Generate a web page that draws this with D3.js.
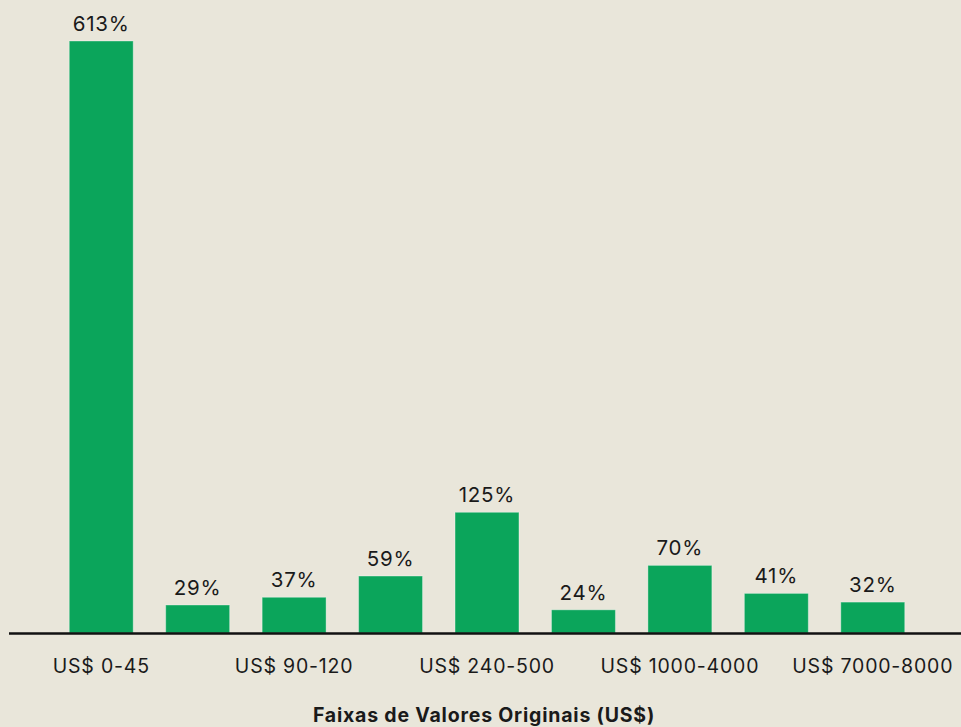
<!DOCTYPE html>
<html><head><meta charset="utf-8">
<script src="https://cdn.jsdelivr.net/npm/d3@7"></script>
<style>
html,body{margin:0;padding:0;background:#e9e6da;}
svg{display:block;font-family:Inter, "Noto Sans", sans-serif;}
</style></head>
<body>
<svg id="chart" width="961" height="727"></svg>
<script>
const categories = ["US$ 0-45","US$ 45-90","US$ 90-120","US$ 120-240","US$ 240-500","US$ 500-1000","US$ 1000-4000","US$ 4000-7000","US$ 7000-8000"];
const values = [613, 29, 37, 59, 125, 24, 70, 41, 32];
const shownTicks = ["US$ 0-45","US$ 90-120","US$ 240-500","US$ 1000-4000","US$ 7000-8000"];
const axisTitle = "Faixas de Valores Originais (US$)";

const W = 961, H = 727;
const margin = {left: 53, right: 40, top: 41, bottom: 94};
const svg = d3.select("#chart");
svg.append("rect").attr("width", W).attr("height", H).attr("fill", "#e9e6da");

const x = d3.scaleBand().domain(categories)
  .range([margin.left, W - margin.right])
  .paddingInner(0.337).paddingOuter(0.1685);
const y = d3.scaleLinear().domain([0, 613]).range([H - margin.bottom, margin.top]);

svg.selectAll("rect.bar").data(values).join("rect")
  .attr("class", "bar")
  .attr("x", (d, i) => x(categories[i]))
  .attr("width", x.bandwidth())
  .attr("y", d => y(d))
  .attr("height", d => y(0) - y(d))
  .attr("fill", "#0ba55b")
  .attr("stroke", "rgba(255,255,255,0.35)")
  .attr("stroke-width", 1);

svg.selectAll("text.val").data(values).join("text")
  .attr("class", "val")
  .attr("x", (d, i) => x(categories[i]) + x.bandwidth() / 2)
  .attr("y", d => y(d) - 10)
  .attr("text-anchor", "middle")
  .attr("font-size", 20.5)
  .attr("letter-spacing", 0.8)
  .attr("fill", "#1a1a1a")
  .text(d => d + "%");

const axis = d3.axisBottom(x).tickSize(0).tickPadding(0)
  .tickFormat(d => shownTicks.includes(d) ? d : "");
const g = svg.append("g").attr("transform", `translate(0,${y(0)})`).call(axis);
g.select(".domain").remove();
g.selectAll(".tick text")
  .attr("dy", 0).attr("y", 40)
  .attr("font-size", 19.5)
  .attr("letter-spacing", 0.8)
  .attr("font-family", "Inter, 'Noto Sans', sans-serif")
  .attr("fill", "#1a1a1a");

svg.append("line")
  .attr("x1", 9).attr("x2", W)
  .attr("y1", y(0) + 0.5).attr("y2", y(0) + 0.5)
  .attr("stroke", "#111").attr("stroke-width", 2.5);

svg.append("text")
  .attr("x", 484).attr("y", 722)
  .attr("text-anchor", "middle")
  .attr("font-size", 19.5)
  .attr("letter-spacing", 0.8)
  .attr("font-weight", "bold")
  .attr("fill", "#1a1a1a")
  .text(axisTitle);
</script>
</body></html>
